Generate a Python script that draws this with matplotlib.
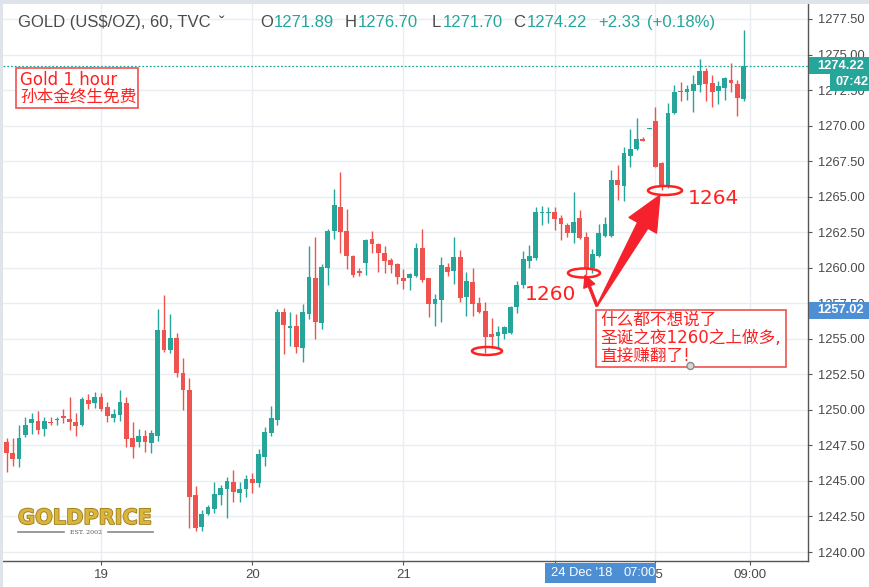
import numpy as np
import matplotlib
matplotlib.use('Agg')
import matplotlib.pyplot as plt
import matplotlib.transforms as mtransforms
from matplotlib.patches import Rectangle, Ellipse, Polygon, Circle
from matplotlib.ticker import FormatStrFormatter
from matplotlib import patheffects

# TVC:GOLD, 1 hour candles (18 - 25 Dec 2018)
opens = [1247.76, 1246.97, 1246.54, 1248.21, 1249.05, 1249.22, 1248.68, 1249.15, 1249.27, 1249.59,
         1249.36, 1249.17, 1248.94, 1250.72, 1250.46, 1250.93, 1250.22, 1249.41, 1249.62, 1250.50,
         1248.00, 1247.72, 1248.18, 1247.69, 1248.18, 1255.62, 1254.21, 1255.08, 1252.57, 1251.40,
         1244.01, 1241.78, 1242.67, 1243.00, 1244.01, 1244.43, 1244.95, 1244.17, 1244.41, 1245.11,
         1244.83, 1246.71, 1248.39, 1249.29, 1256.86, 1255.78, 1255.92, 1254.37, 1256.74, 1259.26,
         1256.13, 1259.96, 1262.61, 1264.25, 1262.61, 1260.85, 1259.77, 1260.31, 1262.02, 1261.67,
         1261.02, 1260.54, 1260.26, 1259.26, 1259.30, 1259.42, 1261.41, 1259.26, 1257.43, 1257.73,
         1260.03, 1259.79, 1260.73, 1257.92, 1259.02, 1257.54, 1256.98, 1255.32, 1255.22, 1255.32,
         1255.39, 1257.22, 1258.79, 1260.47, 1260.66, 1263.83, 1263.87, 1263.94, 1263.48, 1263.01,
         1262.47, 1263.48, 1262.18, 1259.96, 1260.83, 1262.23, 1262.23, 1266.17, 1265.75, 1267.86,
         1268.33, 1269.06, 1269.74, 1270.34, 1267.39, 1265.75, 1270.87, 1272.46, 1272.36, 1272.46,
         1272.86, 1273.84, 1273.02, 1272.46, 1272.63, 1273.21, 1272.91, 1271.89]
highs = [1248.02, 1248.02, 1248.94, 1249.50, 1249.80, 1249.94, 1249.52, 1249.52, 1249.52, 1250.06,
         1250.91, 1249.78, 1250.93, 1251.12, 1251.28, 1251.21, 1250.57, 1250.04, 1251.40, 1250.93,
         1249.17, 1248.63, 1248.58, 1248.58, 1257.08, 1258.08, 1256.74, 1255.43, 1253.63, 1252.22,
         1244.64, 1242.96, 1243.31, 1244.95, 1244.71, 1245.30, 1245.77, 1244.95, 1245.42, 1245.58,
         1247.23, 1248.82, 1250.27, 1257.10, 1257.19, 1256.91, 1256.74, 1257.43, 1261.53, 1262.14,
         1260.24, 1262.70, 1265.52, 1266.71, 1264.11, 1260.90, 1260.00, 1262.02, 1262.61, 1261.72,
         1261.53, 1260.71, 1260.31, 1259.91, 1259.65, 1261.72, 1262.73, 1259.28, 1258.15, 1260.78,
         1260.35, 1262.14, 1261.25, 1259.72, 1260.00, 1257.96, 1257.61, 1256.44, 1255.90, 1255.90,
         1257.31, 1259.07, 1261.20, 1261.60, 1264.29, 1264.34, 1264.29, 1264.25, 1263.71, 1263.17,
         1265.35, 1264.06, 1262.54, 1261.32, 1263.08, 1263.59, 1266.88, 1267.23, 1268.52, 1269.74,
         1270.51, 1269.20, 1269.83, 1271.29, 1267.44, 1271.61, 1272.86, 1273.09, 1272.86, 1273.56,
         1274.69, 1274.03, 1273.56, 1273.16, 1273.44, 1274.43, 1273.21, 1276.70]
lows = [1245.65, 1246.07, 1246.00, 1248.11, 1248.28, 1248.28, 1248.16, 1248.94, 1248.94, 1249.10,
        1248.58, 1248.16, 1248.87, 1250.08, 1250.11, 1249.94, 1249.13, 1249.13, 1249.24, 1247.37,
        1246.59, 1247.41, 1247.01, 1246.94, 1247.83, 1254.09, 1254.02, 1252.29, 1249.99, 1241.67,
        1241.50, 1241.50, 1242.60, 1242.72, 1243.31, 1242.41, 1243.54, 1243.54, 1243.85, 1244.13,
        1244.59, 1246.05, 1248.16, 1248.94, 1253.93, 1254.51, 1253.98, 1253.39, 1256.37, 1254.96,
        1255.69, 1258.79, 1262.00, 1261.02, 1259.89, 1259.33, 1259.42, 1259.49, 1261.02, 1259.68,
        1259.61, 1259.61, 1258.86, 1258.48, 1258.43, 1259.33, 1259.02, 1256.56, 1255.90, 1256.20,
        1259.42, 1258.86, 1257.61, 1256.60, 1256.60, 1256.79, 1253.98, 1254.33, 1254.33, 1254.96,
        1255.34, 1256.79, 1258.57, 1259.96, 1260.54, 1263.01, 1263.13, 1262.65, 1261.95, 1262.18,
        1261.72, 1262.00, 1259.49, 1259.61, 1260.78, 1262.14, 1262.14, 1264.77, 1264.72, 1267.11,
        1268.28, 1268.92, 1269.73, 1267.09, 1265.47, 1265.61, 1270.82, 1271.75, 1271.80, 1270.98,
        1272.39, 1271.73, 1271.33, 1271.50, 1271.80, 1272.34, 1270.68, 1271.70]
closes = [1246.99, 1246.54, 1248.04, 1248.94, 1249.36, 1248.58, 1249.22, 1249.05, 1249.38, 1249.41,
          1249.17, 1248.89, 1250.79, 1250.43, 1250.93, 1250.06, 1249.57, 1249.69, 1250.57, 1247.93,
          1247.41, 1248.18, 1247.72, 1248.35, 1255.62, 1254.21, 1255.08, 1252.62, 1251.40, 1243.85,
          1241.71, 1242.65, 1243.14, 1244.06, 1244.52, 1245.02, 1244.24, 1244.43, 1245.16, 1244.83,
          1246.87, 1248.44, 1249.41, 1256.86, 1255.97, 1255.92, 1254.44, 1256.91, 1259.33, 1256.16,
          1260.07, 1262.61, 1264.41, 1262.54, 1260.83, 1259.49, 1259.65, 1261.95, 1261.65, 1261.06,
          1260.47, 1260.17, 1259.37, 1259.09, 1259.54, 1261.37, 1259.14, 1257.43, 1257.78, 1260.19,
          1259.72, 1260.73, 1257.85, 1259.09, 1257.45, 1256.91, 1255.15, 1255.15, 1255.46, 1255.81,
          1257.26, 1258.79, 1260.59, 1260.85, 1263.94, 1263.94, 1263.94, 1263.41, 1263.08, 1262.47,
          1263.24, 1262.07, 1259.96, 1260.95, 1262.42, 1263.08, 1266.17, 1265.82, 1268.05, 1268.33,
          1269.04, 1268.95, 1269.81, 1267.11, 1265.75, 1270.92, 1272.39, 1272.36, 1272.55, 1272.93,
          1273.86, 1272.91, 1272.39, 1272.79, 1273.33, 1272.98, 1271.96, 1274.22]

x_tick_pos = [15, 39, 63, 87, 103, 118]
x_tick_labels = ['19', '20', '21', '', '25', '09:00']  # the "24" label sits under the crosshair box
y_ticks = np.arange(1240.0, 1278.0, 2.5)

change = 2.33
change_pct = 0.18
cross_price = 1257.02
cross_time = ["24 Dec '18", '07:00']
countdown = '07:42'

UP = '#26a69a'
DOWN = '#ef5350'
RED = '#ff2020'
GREY = '#4a4a4a'
BLUE = '#4e8fd3'

plt.rcParams['font.family'] = ['Liberation Sans', 'DejaVu Sans']
W, H = 869, 587
fig = plt.figure(figsize=(W / 100, H / 100), dpi=100)
fig.patch.set_facecolor('white')

# pixel coords (from the top left) -> figure
pix = mtransforms.Affine2D().scale(1 / W, -1 / H).translate(0, 1) + fig.transFigure

ax = fig.add_axes([3 / W, 1 - 561 / H, 805 / W, 557 / H])
ax.set_xlim(-0.556, 127.22)
ax.set_ylim(1239.367, 1278.555)

# candles
o, h, l, c = map(np.array, (opens, highs, lows, closes))
idx = np.arange(len(o))
colors = np.where(c >= o, UP, DOWN)
ax.vlines(idx, l, h, colors=colors, lw=1, zorder=2)
ax.bar(idx, np.maximum(np.abs(c - o), 0.07), bottom=np.minimum(o, c), width=0.76,
       color=colors, lw=0, zorder=3)

last = closes[-1]
ax.axhline(last, color=UP, lw=0.9, ls=(0, (1.5, 1.5)), zorder=1)

# axes styling
ax.set_xticks(x_tick_pos)
ax.set_xticklabels(x_tick_labels)
ax.set_yticks(y_ticks)
ax.yaxis.set_major_formatter(FormatStrFormatter('%.2f'))
ax.yaxis.tick_right()
ax.tick_params(axis='y', length=3, width=0.8, color='#555555', labelsize=9.3,
               labelcolor=GREY, pad=4)
ax.tick_params(axis='x', length=3, width=0.8, color='#555555', labelsize=9.5,
               labelcolor=GREY, pad=3)
for s in ['top', 'left']:
    ax.spines[s].set_visible(False)
for s in ['right', 'bottom']:
    ax.spines[s].set_color('#555555')
    ax.spines[s].set_linewidth(1)
ax.grid(True, color='#e9edf2', lw=1)
ax.set_axisbelow(True)

# light frame of the widget
fig.add_artist(Rectangle((0, 0), W, 4, transform=pix, color='#dfe3ea', lw=0))
fig.add_artist(Rectangle((0, 0), 3, H, transform=pix, color='#dfe3ea', lw=0))

# header line
fig.text(18 / W, 1 - 22.5 / H, 'GOLD (US$/OZ), 60, TVC', fontsize=12, color=GREY, va='center')
fig.text(219 / W, 1 - 24 / H, '\u02c7', fontsize=12, color=GREY, va='center')
ohlc = [('O', 260, 274, opens[-1]), ('H', 345, 358, highs[-1]),
        ('L', 432, 443, lows[-1]), ('C', 513, 527, last)]
for lab, xl, xn, v in ohlc:
    fig.text(xl / W, 1 - 22.5 / H, lab, fontsize=12, color=GREY, va='center')
    fig.text(xn / W, 1 - 22.5 / H, f'{v:.2f}', fontsize=12, color=UP, va='center')
fig.text(598 / W, 1 - 22.5 / H, f'+{change:.2f}', fontsize=12, color=UP, va='center')
fig.text(647 / W, 1 - 22.5 / H, f'(+{change_pct:.2f}%)', fontsize=12, color=UP, va='center')

# price labels on the right scale
PX = 37.5 / 533  # price per pixel
bt = mtransforms.blended_transform_factory(fig.transFigure, ax.transData)
fig.add_artist(Rectangle((809 / W, last - 8 * PX), 1 - 809 / W, 16.5 * PX, transform=bt,
                         color=UP, lw=0))
fig.text(817 / W, last, f'{last:.2f}', transform=bt, fontsize=9.3, fontweight='bold',
         color='white', va='center')
fig.add_artist(Rectangle((830 / W, last - 25 * PX), 1 - 830 / W, 17 * PX, transform=bt,
                         color=UP, lw=0))
fig.text(836 / W, last - 16.5 * PX, countdown, transform=bt, fontsize=9.3, fontweight='bold',
         color='white', va='center')
fig.add_artist(Rectangle((809 / W, cross_price - 8.5 * PX), 1 - 809 / W, 17 * PX, transform=bt,
                         color=BLUE, lw=0))
fig.text(817 / W, cross_price, f'{cross_price:.2f}', transform=bt, fontsize=9.3,
         fontweight='bold', color='white', va='center')

# crosshair time label
fig.add_artist(Rectangle((545, 563), 111, 20, transform=pix, color=BLUE, lw=0))
fig.text(551 / W, 1 - 573 / H, cross_time[0], fontsize=9.3, color='white', va='center')
fig.text(623 / W, 1 - 573 / H, cross_time[1], fontsize=9.3, color='white', va='center')

# GOLDPRICE logo
fig.text(18 / W, 1 - 518 / H, 'GOLDPRICE', family='DejaVu Sans', fontsize=15,
         fontweight='bold', color='#d9b53c', va='center',
         path_effects=[patheffects.withStroke(linewidth=1.2, foreground='#9c7a16')])
fig.text(86 / W, 1 - 532 / H, 'EST. 2002', family='DejaVu Serif', fontsize=4.5,
         color='#555555', va='center', ha='center')
fig.add_artist(plt.Line2D([18 / W, 64 / W], [1 - 532 / H] * 2, color='#8a8a8a', lw=1.2))
fig.add_artist(plt.Line2D([108 / W, 153 / W], [1 - 532 / H] * 2, color='#8a8a8a', lw=1.2))

cjk = ['DejaVu Sans', 'Noto Sans CJK SC']

# note top left
fig.add_artist(Rectangle((16, 68), 122, 40, transform=pix, facecolor='white',
                         edgecolor='#f25050', lw=1.2))
fig.text(20 / W, 1 - 80 / H, 'Gold 1 hour', family=cjk, fontsize=12, color=RED, va='center')
fig.text(20 / W, 1 - 97 / H, '孙本金终生免费', family=cjk, fontsize=12, color=RED, va='center')

# hand drawn marks
for cx, cy, ew, eh in [(487, 351, 30, 8), (584, 273, 32, 9), (665, 190.5, 34, 9)]:
    fig.add_artist(Ellipse((cx, cy), ew, eh, transform=pix, fill=False, edgecolor=RED, lw=1.8))
fig.text(525 / W, 1 - 295 / H, '1260', family='DejaVu Sans', fontsize=14.5, color=RED,
         va='center')
fig.text(688 / W, 1 - 199 / H, '1264', family='DejaVu Sans', fontsize=14.5, color=RED,
         va='center')

big_arrow = [(596.6, 305.8), (637.5, 222.4), (628.8, 217.5), (660, 195), (656.6, 233.3),
             (647.9, 228.4), (597.4, 306.2)]
small_arrow = [(595.9, 306.4), (588.2, 286.6), (583.7, 288.4), (585, 275), (594.9, 284.0),
               (590.4, 285.8), (598.1, 305.6)]
for pts in (big_arrow, small_arrow):
    fig.add_artist(Polygon(pts, closed=True, transform=pix, facecolor='#f5222d',
                           edgecolor='#f5222d', lw=0.8))

# comment box
fig.add_artist(Rectangle((596, 310), 190, 57, transform=pix, facecolor='white',
                         edgecolor='#f25050', lw=1.2))
for yy, line in [(320, '什么都不想说了'), (338, '圣诞之夜1260之上做多,'), (356, '直接赚翻了!')]:
    fig.text(600 / W, 1 - yy / H, line, family=cjk, fontsize=12, color=RED, va='center')
fig.add_artist(Circle((690.5, 366), 3.5, transform=pix, facecolor='#d6d6d6',
                      edgecolor='#888888', lw=1))

fig.savefig('out.png', dpi=100)
